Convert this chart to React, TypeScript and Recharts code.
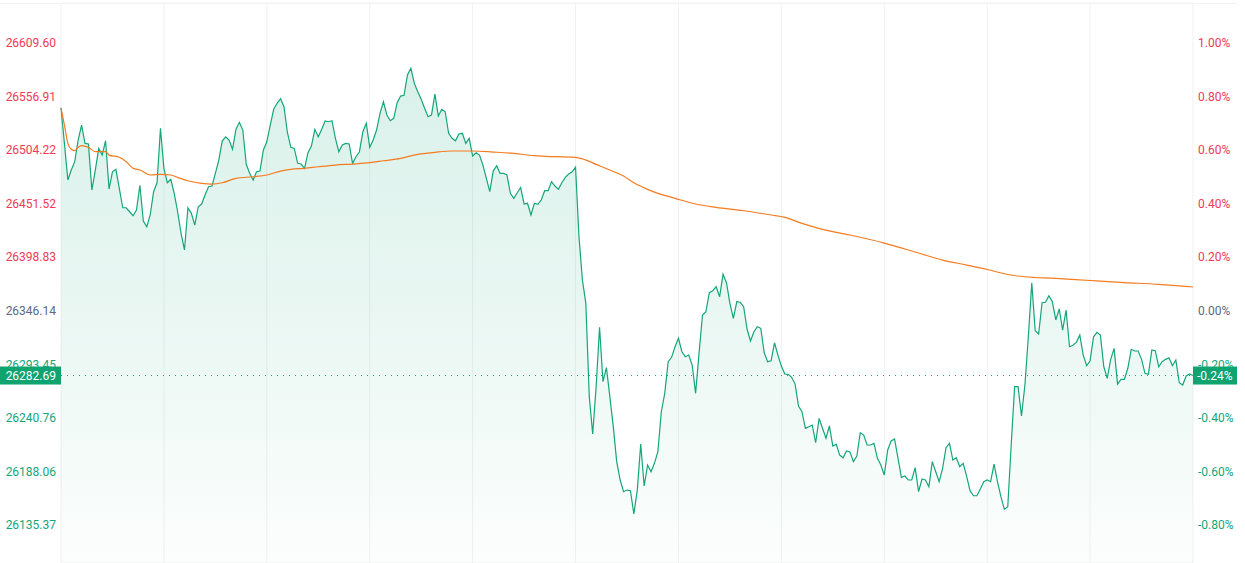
import { Area, CartesianGrid, ComposedChart, Line, ReferenceLine, XAxis, YAxis } from 'recharts';

const BASE = 26346.14;
const LAST = 26282.69;

// one value per minute, 09:30 .. 16:00 (lunch break skipped)
const prices = [
  26545.9, 26510.9, 26474.9, 26484.7, 26492.9, 26514.2, 26528.9, 26510.9, 26510.3, 26465.0,
  26484.7, 26506.0, 26499.4, 26513.5, 26466.0, 26483.0, 26485.4, 26466.7, 26447.6, 26447.6,
  26443.7, 26439.8, 26445.4, 26469.7, 26434.6, 26429.0, 26440.5, 26463.4, 26472.2, 26525.7,
  26486.4, 26472.2, 26475.6, 26461.8, 26443.7, 26422.5, 26406.1, 26447.6, 26442.1, 26430.6,
  26448.6, 26451.3, 26460.1, 26468.3, 26469.0, 26481.5, 26494.5, 26513.2, 26517.4, 26514.2,
  26505.1, 26524.7, 26531.6, 26524.0, 26490.3, 26481.5, 26474.9, 26483.0, 26483.7, 26504.4,
  26512.5, 26528.9, 26544.4, 26550.3, 26554.8, 26546.9, 26521.6, 26507.0, 26506.0, 26491.3,
  26490.6, 26486.4, 26501.7, 26508.3, 26524.7, 26517.4, 26524.7, 26532.9, 26532.2, 26533.2,
  26515.9, 26502.7, 26509.3, 26510.9, 26510.3, 26491.3, 26497.8, 26502.7, 26522.4, 26530.6,
  26507.0, 26514.2, 26524.0, 26540.4, 26551.8, 26538.8, 26533.2, 26535.5, 26550.9, 26557.4,
  26558.1, 26578.1, 26584.7, 26569.9, 26561.7, 26554.2, 26545.4, 26537.1, 26538.8, 26559.4,
  26537.8, 26544.4, 26542.0, 26520.8, 26515.9, 26513.5, 26520.1, 26520.8, 26510.9, 26515.9,
  26498.5, 26501.7, 26499.4, 26489.6, 26476.5, 26463.4, 26483.7, 26488.9, 26481.5, 26481.5,
  26479.8, 26461.8, 26456.9, 26462.4, 26467.5, 26451.3, 26452.0, 26440.5, 26452.0, 26451.0,
  26455.2, 26464.4, 26464.4, 26473.2, 26469.0, 26465.7, 26472.2, 26477.5, 26480.8, 26483.0,
  26487.4, 26419.1, 26376.6, 26353.7, 26261.9, 26225.2, 26271.7, 26330.1, 26276.6, 26290.4,
  26261.9, 26232.4, 26198.0, 26180.0, 26168.5, 26170.1, 26169.5, 26146.6, 26170.1, 26215.4,
  26174.1, 26194.7, 26188.1, 26196.4, 26207.8, 26247.1, 26265.2, 26296.3, 26300.6, 26311.0,
  26319.3, 26306.1, 26301.2, 26302.8, 26293.0, 26265.2, 26304.5, 26342.2, 26345.4, 26364.1,
  26366.1, 26370.0, 26360.2, 26382.2, 26373.9, 26353.7, 26338.9, 26355.2, 26354.7, 26350.3,
  26328.4, 26316.6, 26325.8, 26330.7, 26329.1, 26305.1, 26296.3, 26297.2, 26314.9, 26302.8,
  26292.0, 26284.2, 26283.9, 26280.9, 26274.3, 26252.7, 26247.1, 26230.8, 26232.4, 26234.0,
  26216.6, 26240.6, 26230.8, 26221.0, 26233.1, 26213.4, 26215.1, 26204.5, 26201.9, 26208.5,
  26207.5, 26198.0, 26203.6, 26226.5, 26224.2, 26214.4, 26214.4, 26216.0, 26201.3, 26194.7,
  26184.9, 26209.5, 26218.3, 26220.3, 26201.3, 26182.6, 26183.9, 26180.0, 26180.0, 26192.1,
  26168.5, 26181.0, 26180.0, 26173.4, 26198.0, 26188.1, 26178.3, 26191.5, 26211.7, 26216.0,
  26199.6, 26201.9, 26193.0, 26196.4, 26183.9, 26169.5, 26164.5, 26164.5, 26171.1, 26178.3,
  26180.0, 26178.3, 26195.7, 26178.3, 26163.6, 26151.2, 26153.7, 26214.4, 26271.7, 26271.7,
  26242.9, 26273.4, 26320.8, 26373.9, 26326.7, 26323.5, 26354.3, 26354.7, 26361.1, 26355.2,
  26337.3, 26348.1, 26327.4, 26347.1, 26311.0, 26312.4, 26315.3, 26322.5, 26302.8, 26292.3,
  26297.2, 26320.8, 26325.2, 26322.5, 26291.3, 26279.9, 26298.6, 26309.4, 26274.3, 26279.0,
  26279.0, 26289.8, 26308.5, 26306.8, 26306.8, 26298.6, 26284.9, 26283.9, 26307.8, 26307.1,
  26291.3, 26296.3, 26298.6, 26300.2, 26292.3, 26297.9, 26275.6, 26273.4, 26282.2, 26284.2,
  26282.69,
];

// average price line, read at these minutes
const avgMinutes = [
  0, 1, 2, 3, 4, 5, 6, 8, 10, 13, 14, 17, 19, 21, 23, 26, 29, 32, 34, 37, 41, 44, 47, 51, 56,
  60, 64, 67, 71, 75, 80, 85, 90, 94, 99, 104, 109, 114, 120, 126, 132, 138, 144, 150, 153,
  156, 160, 164, 167, 171, 174, 179, 185, 191, 199, 207, 211, 216, 222, 230, 240, 250, 257,
  264, 270, 276, 281, 290, 300, 310, 320, 330,
];
const avgPrices = [
  26545.9, 26528.9, 26510.9, 26505.1, 26503.7, 26507.0, 26508.6, 26507.0, 26502.7, 26502.7,
  26499.4, 26497.2, 26492.9, 26486.4, 26484.7, 26479.8, 26480.5, 26479.8, 26477.5, 26474.2,
  26471.6, 26470.9, 26472.2, 26476.5, 26478.1, 26479.8, 26483.7, 26485.4, 26486.4, 26487.9,
  26489.6, 26490.6, 26491.9, 26493.8, 26496.2, 26500.1, 26502.1, 26503.4, 26503.4, 26502.4,
  26501.1, 26498.8, 26497.8, 26497.2, 26494.5, 26490.3, 26484.7, 26478.8, 26472.2, 26465.7,
  26461.8, 26456.9, 26451.3, 26448.0, 26444.7, 26440.5, 26438.2, 26432.3, 26426.4, 26420.8,
  26412.9, 26403.1, 26396.2, 26391.3, 26386.9, 26382.0, 26379.8, 26378.2, 26376.1, 26374.1,
  26372.3, 26369.7,
];

const priceTicks = [26135.37, 26188.06, 26240.76, 26293.45, 26346.14, 26398.83, 26451.52, 26504.22, 26556.91, 26609.6];
const pctTicks = [-0.8, -0.6, -0.4, -0.2, 0, 0.2, 0.4, 0.6, 0.8, 1.0];
const timeTicks = [0, 30, 60, 90, 120, 150, 180, 210, 240, 270, 300, 330];

const RED = '#ee3a55';
const GREEN = '#14a67a';
const GREY = '#5d6780';
const BADGE = '#0ea36f';
const FONT = 'Roboto, sans-serif';

const priceData = prices.map((price, t) => ({ t, price }));
const avgData = avgMinutes.map((t, k) => ({ t, avg: avgPrices[k] }));
const pctAsPrice = pctTicks.map((p) => +(BASE * (1 + p / 100)).toFixed(2));

const colorFor = (v: number) => (Math.abs(v - BASE) < 0.01 ? GREY : v > BASE ? RED : GREEN);

function LeftTick({ x, y, payload }: any) {
  return (
    <text x={x} y={y} dy={4} textAnchor="end" fill={colorFor(payload.value)} fontSize={12} fontFamily={FONT}>
      {payload.value.toFixed(2)}
    </text>
  );
}

function RightTick({ x, y, payload }: any) {
  const pct = (payload.value / BASE - 1) * 100;
  const txt = (Math.abs(pct) < 0.001 ? 0 : pct).toFixed(2) + '%';
  return (
    <text x={x} y={y} dy={4} textAnchor="start" fill={colorFor(payload.value)} fontSize={12} fontFamily={FONT}>
      {txt}
    </text>
  );
}

function LastBadges({ viewBox }: any) {
  if (!viewBox) return null;
  const { x, y, width } = viewBox;
  const pct = ((LAST / BASE - 1) * 100).toFixed(2) + '%';
  return (
    <g>
      <rect x={0} y={y - 9} width={x} height={18} fill={BADGE} />
      <text x={x - 5} y={y + 4} textAnchor="end" fill="#fff" fontSize={12} fontFamily={FONT}>
        {LAST.toFixed(2)}
      </text>
      <rect x={x + width} y={y - 9} width={44} height={18} fill={BADGE} />
      <text x={x + width + 4} y={y + 4} fill="#fff" fontSize={12} fontFamily={FONT}>
        {pct}
      </text>
    </g>
  );
}

export default function App() {
  return (
    <div style={{ position: 'relative', width: 1245, height: 563, background: '#fff' }}>
      <style>{'body{margin:0}'}</style>
      <div style={{ position: 'absolute', left: 0, top: 3, width: 1237, height: 1, background: '#f2f2f2' }} />
      <ComposedChart width={1245} height={563} data={priceData} margin={{ top: 3, right: 0, bottom: 0, left: 0 }}>
        <defs>
          <linearGradient id="areaFill" x1="0" y1="0" x2="0" y2="1">
            <stop offset="0%" stopColor={GREEN} stopOpacity={0.27} />
            <stop offset="50%" stopColor={GREEN} stopOpacity={0.15} />
            <stop offset="100%" stopColor={GREEN} stopOpacity={0.02} />
          </linearGradient>
        </defs>
        <CartesianGrid stroke="#f1f1f1" />
        <XAxis dataKey="t" type="number" domain={[0, 330]} ticks={timeTicks} hide />
        <YAxis
          yAxisId="l"
          width={61}
          domain={[26098.4, 26648.9]}
          allowDataOverflow
          ticks={priceTicks}
          interval={0}
          axisLine={false}
          tickLine={false}
          tickSize={0}
          tickMargin={5}
          tick={<LeftTick />}
        />
        <YAxis
          yAxisId="r"
          orientation="right"
          width={52}
          domain={[26098.4, 26648.9]}
          allowDataOverflow
          ticks={pctAsPrice}
          interval={0}
          axisLine={false}
          tickLine={false}
          tickSize={0}
          tickMargin={5}
          tick={<RightTick />}
        />
        <Area
          yAxisId="l"
          type="linear"
          dataKey="price"
          stroke={GREEN}
          strokeWidth={1.2}
          fill="url(#areaFill)"
          isAnimationActive={false}
          dot={false}
          activeDot={false}
        />
        <Line
          yAxisId="l"
          data={avgData}
          type="monotone"
          dataKey="avg"
          stroke="#f47b20"
          strokeWidth={1.2}
          dot={false}
          activeDot={false}
          isAnimationActive={false}
        />
        <ReferenceLine
          yAxisId="l"
          y={LAST}
          stroke={GREEN}
          strokeDasharray="1 5"
          label={(props: any) => <LastBadges {...props} />}
        />
      </ComposedChart>
    </div>
  );
}
